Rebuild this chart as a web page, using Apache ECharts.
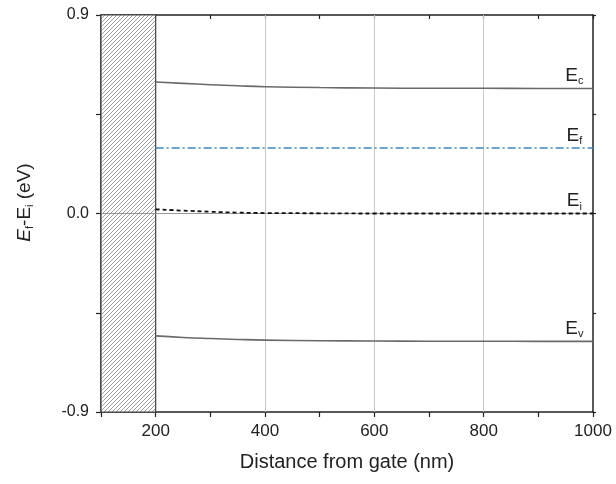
<!DOCTYPE html>
<html><head><meta charset="utf-8">
<script src="https://cdn.jsdelivr.net/npm/echarts@6/dist/echarts.min.js"></script>
<style>html,body{margin:0;padding:0;background:#fff}#c{width:616px;height:484px}</style>
</head><body><div id="c"></div>
<script>
// ---- data ----
const distance = [200, 250, 300, 350, 400, 500, 600, 700, 800, 900, 1000];
const Ec = [0.596, 0.590, 0.584, 0.579, 0.575, 0.571, 0.569, 0.568, 0.568, 0.567, 0.567];
const Ev = [-0.555, -0.562, -0.567, -0.571, -0.574, -0.577, -0.578, -0.579, -0.579, -0.580, -0.580];
const Ei = [0.019, 0.013, 0.008, 0.004, 0.002, 0.001, 0.000, 0.000, 0.000, 0.000, 0.000];
const Ef = [0.297, 0.297, 0.297, 0.297, 0.297, 0.297, 0.297, 0.297, 0.297, 0.297, 0.297];
const gateRange = [100, 200];
const xGrid = [400, 600, 800];
const yGrid = [0];
const xTickLabels = [200, 400, 600, 800, 1000];
const yTickLabels = [-0.9, 0.0, 0.9];
const bandNames = ['c', 'f', 'i', 'v'];

const pair = arr => distance.map((d, i) => [d, arr[i]]);

// hatch pattern
const pc = document.createElement('canvas');
pc.width = 4; pc.height = 4;
const g = pc.getContext('2d');
g.fillStyle = '#fff'; g.fillRect(0, 0, 4, 4);
g.strokeStyle = '#8a8a8a'; g.lineWidth = 0.8;
g.beginPath();
g.moveTo(0, 4); g.lineTo(4, 0);
g.moveTo(-1, 1); g.lineTo(1, -1);
g.moveTo(3, 5); g.lineTo(5, 3);
g.stroke();

const FONT = 'Liberation Sans, Arial, sans-serif';
const txt = '#222';
const rich = {
  e: { fontSize: 19, color: txt, fontFamily: FONT },
  s: { fontSize: 11, color: txt, fontFamily: FONT, padding: [11, 0, 0, 0] }
};
function bandLabel(name, x, y) {
  return {
    coord: [x, y], symbol: 'circle', symbolSize: 1,
    itemStyle: { color: 'rgba(0,0,0,0)' },
    label: { show: true, position: 'top', distance: 1, formatter: '{e|E}{s|' + name + '}', rich: rich }
  };
}
const labelX = 966;

const chart = echarts.init(document.getElementById('c'));
chart.setOption({
  animation: false,
  backgroundColor: '#fff',
  grid: { left: 101, right: 23, top: 15, bottom: 72 },
  xAxis: [{
    type: 'value', min: 100, max: 1000, interval: 100,
    name: 'Distance from gate (nm)', nameLocation: 'middle', nameGap: 40,
    nameTextStyle: { fontSize: 20, color: txt, fontFamily: FONT },
    axisLine: { onZero: false, lineStyle: { color: '#222', width: 1.5 } },
    axisTick: { length: 5, lineStyle: { color: '#222', width: 1.2 } },
    axisLabel: { fontSize: 17, color: txt, fontFamily: FONT, margin: 11,
      formatter: v => xTickLabels.includes(v) ? String(v) : '' },
    splitLine: { show: false }
  }, {
    type: 'value', min: 100, max: 1000, interval: 100, position: 'top',
    axisLine: { onZero: false, lineStyle: { color: '#222', width: 1.5 } },
    axisTick: { inside: true, length: 4, lineStyle: { color: '#222', width: 1.2 } },
    axisLabel: { show: false }, splitLine: { show: false }
  }],
  yAxis: [{
    type: 'value', min: -0.9, max: 0.9, interval: 0.45,
    name: '{it|E}{s|f}-E{s|i} (eV)', nameLocation: 'middle', nameGap: 66, nameRotate: 90,
    nameTextStyle: { fontSize: 19, color: txt, fontFamily: FONT, padding: [0, 0, 0, 22],
      rich: { it: { fontStyle: 'italic', fontSize: 19, color: txt, fontFamily: FONT },
              s: { fontSize: 11, color: txt, fontFamily: FONT, padding: [10, 0, 0, 0] } } },
    axisLine: { onZero: false, lineStyle: { color: '#222', width: 1.5 } },
    axisTick: { length: 5, lineStyle: { color: '#222', width: 1.2 } },
    axisLabel: { fontSize: 16, color: txt, fontFamily: FONT, margin: 12,
      formatter: v => { const r = Math.round(v * 100) / 100; return yTickLabels.some(t => Math.abs(t - r) < 1e-6) ? r.toFixed(1) : ''; } },
    splitLine: { show: false }
  }, {
    type: 'value', min: -0.9, max: 0.9, interval: 0.45, position: 'right',
    axisLine: { onZero: false, lineStyle: { color: '#222', width: 1.5 } },
    axisTick: { inside: false, length: 3, lineStyle: { color: '#222', width: 1.2 } },
    axisLabel: { show: false }, splitLine: { show: false }
  }],
  series: [
    {
      type: 'line', data: [], z: 1, silent: true,
      markLine: { symbol: 'none', silent: true, label: { show: false },
        lineStyle: { color: '#c8c8c8', width: 1, type: 'solid' },
        data: xGrid.map(v => ({ xAxis: v })) }
    },
    {
      type: 'custom', z: 2, silent: true,
      data: [[gateRange[0], gateRange[1]]],
      renderItem: (params, api) => {
        const p0 = api.coord([api.value(0), 0.9]);
        const p1 = api.coord([api.value(1), -0.9]);
        return { type: 'rect', shape: { x: p0[0], y: p0[1], width: p1[0] - p0[0], height: p1[1] - p0[1] },
          style: { fill: { image: pc, repeat: 'repeat' }, stroke: '#444', lineWidth: 1.2 } };
      }
    },
    {
      type: 'line', data: [], z: 3, silent: true,
      markLine: { symbol: 'none', silent: true, label: { show: false },
        lineStyle: { color: '#999', width: 1, type: 'solid' },
        data: yGrid.map(v => ({ yAxis: v })) }
    },
    { name: 'Ec', type: 'line', data: pair(Ec), showSymbol: false, smooth: true, z: 5,
      lineStyle: { color: '#6a6a6a', width: 1.6 },
      markPoint: { data: [bandLabel(bandNames[0], labelX, Ec[Ec.length - 1])] } },
    { name: 'Ef', type: 'line', data: pair(Ef), showSymbol: false, z: 5,
      lineStyle: { color: '#3a86c4', width: 1.6, type: [8, 3, 2, 3] },
      markPoint: { data: [bandLabel(bandNames[1], labelX, Ef[Ef.length - 1])] } },
    { name: 'Ei', type: 'line', data: pair(Ei), showSymbol: false, smooth: true, z: 5,
      lineStyle: { color: '#111', width: 1.8, type: [4, 3] },
      markPoint: { data: [bandLabel(bandNames[2], labelX, Ei[Ei.length - 1])] } },
    { name: 'Ev', type: 'line', data: pair(Ev), showSymbol: false, smooth: true, z: 5,
      lineStyle: { color: '#6a6a6a', width: 1.6 },
      markPoint: { data: [bandLabel(bandNames[3], labelX, Ev[Ev.length - 1])] } }
  ]
});
</script></body></html>
